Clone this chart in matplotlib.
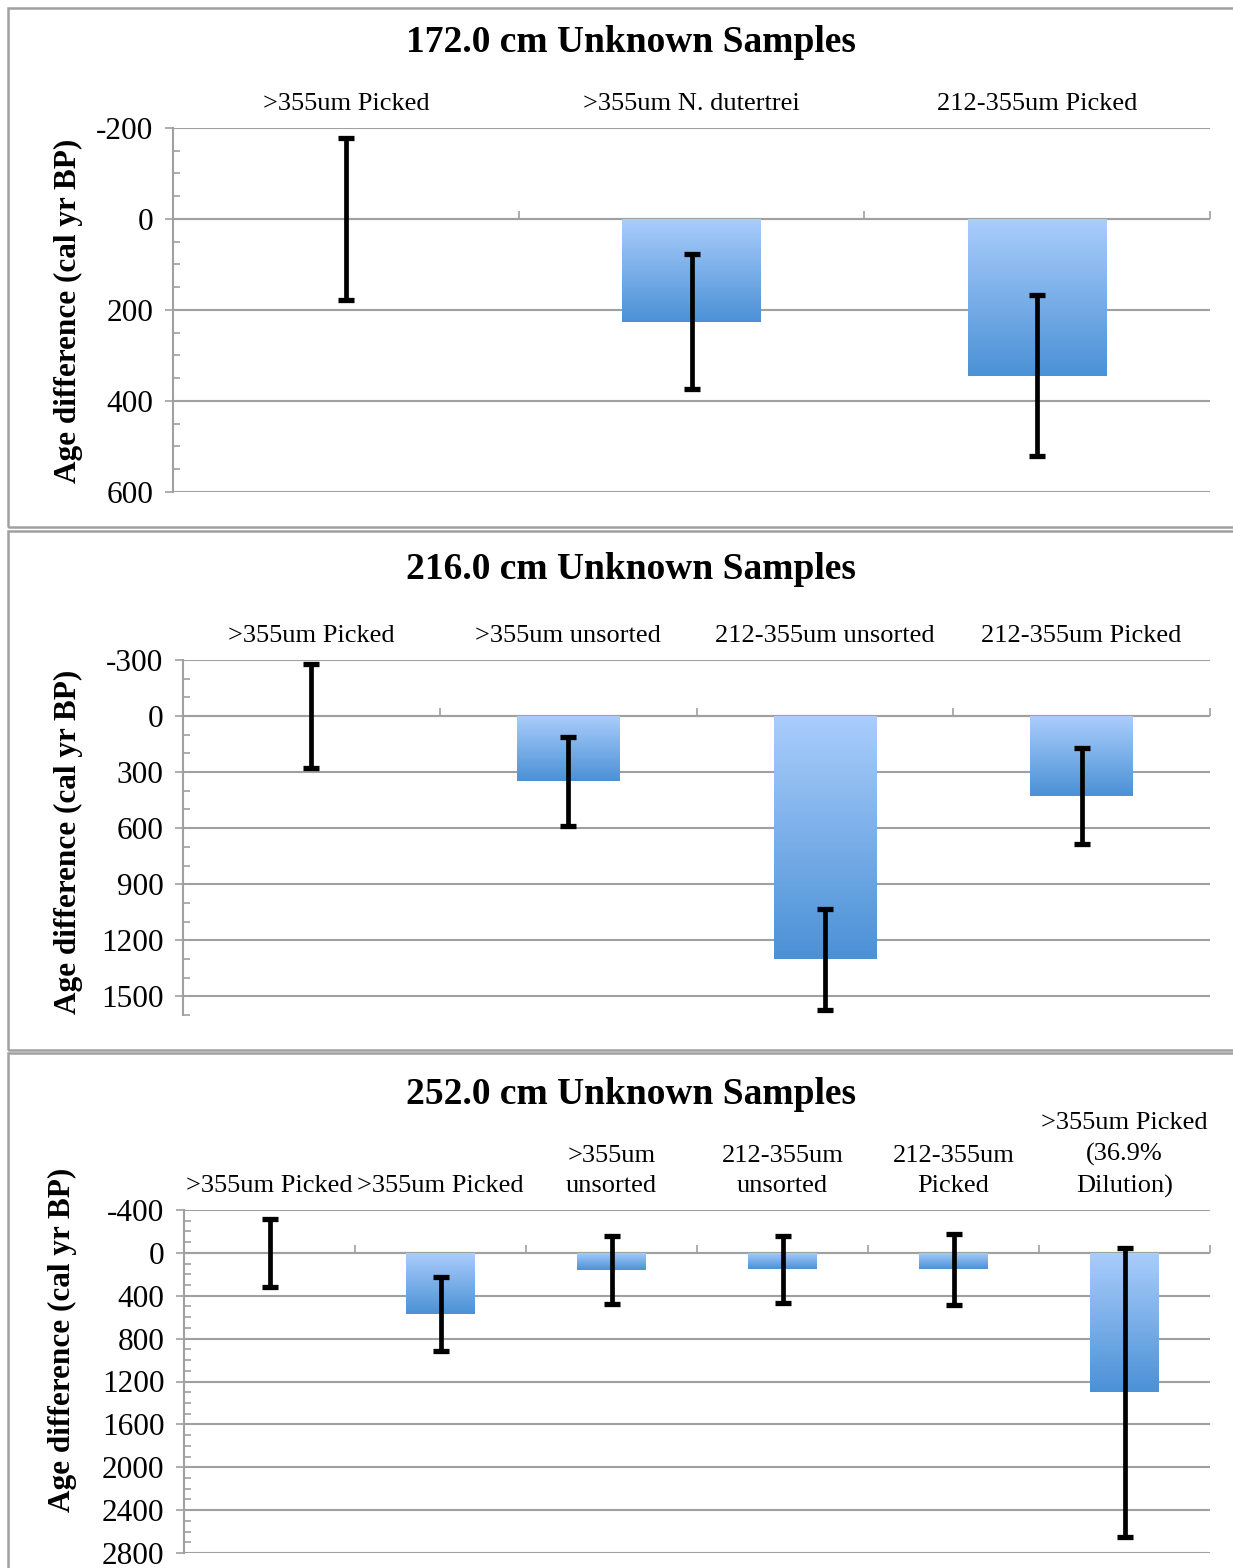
#!/usr/bin/env python3
"""
    Age difference of unknown samples at three depths
"""

import numpy as np
import matplotlib
matplotlib.use("Agg")
from matplotlib import pyplot as plt
from matplotlib.colors import LinearSegmentedColormap
from matplotlib.patches import Rectangle
from matplotlib.ticker import MultipleLocator

# 172.0 cm
labels_172 = [">355um Picked", ">355um N. dutertrei", "212-355um Picked"]
values_172 = [0, 226, 344]
errors_172 = [177, 148, 177]

# 216.0 cm
labels_216 = [">355um Picked", ">355um unsorted", "212-355um unsorted", "212-355um Picked"]
values_216 = [0, 350, 1302, 427]
errors_216 = [280, 238, 272, 256]

# 252.0 cm
labels_252 = [">355um Picked", ">355um Picked", ">355um\nunsorted", "212-355um\nunsorted",
              "212-355um\nPicked", ">355um Picked\n(36.9%\nDilution)"]
values_252 = [0, 569, 159, 155, 154, 1300]
errors_252 = [320, 345, 317, 312, 331, 1348]

plt.rcParams["font.family"] = ["Liberation Serif", "DejaVu Serif"]
plt.rcParams["axes.unicode_minus"] = False

W, H = 1233, 1568
GRAY = "#a0a0a0"
grad = LinearSegmentedColormap.from_list("bar", ["#aacdfc", "#4b91d6"])


def panel(fig, rect, title, title_y, ylab_x, ylab_y, labels, values, errors,
          ylim, major, minor):
    left, top, right, bottom = rect
    ax = fig.add_axes([left / W, 1 - bottom / H, (right - left) / W, (bottom - top) / H])
    n = len(labels)
    x = np.arange(n) + 0.5

    bars = ax.bar(x, values, width=0.4, color="none", edgecolor="none", zorder=2)
    for b in bars:
        if b.get_height() == 0:
            continue
        im = ax.imshow(np.linspace(0, 1, 256).reshape(-1, 1), cmap=grad, aspect="auto",
                       origin="lower", interpolation="bicubic",
                       extent=(b.get_x(), b.get_x() + b.get_width(), 0, b.get_height()),
                       zorder=2)
        im.set_clip_path(b)

    ax.errorbar(x, values, yerr=errors, fmt="none", ecolor="black", elinewidth=3.4,
                capsize=5.5, capthick=3.8, zorder=4)

    # category axis at zero with small upward ticks at boundaries
    ax.axhline(0, color=GRAY, lw=1.5, zorder=1)
    ax.plot(np.arange(n + 1), np.zeros(n + 1), ls="none", marker=2, ms=6,
            mew=1.2, color=GRAY, zorder=1, clip_on=False)

    ax.set_xlim(0, n)
    ax.set_ylim(ylim[1], ylim[0])
    ax.yaxis.set_major_locator(MultipleLocator(major))
    ax.yaxis.set_minor_locator(MultipleLocator(minor))
    ax.grid(axis="y", which="major", color=GRAY, lw=1.5, zorder=0)
    ax.set_axisbelow(True)

    ax.xaxis.tick_top()
    ax.set_xticks(x, labels)
    for lab in ax.get_xticklabels():
        lab.set_linespacing(1.5)
    ax.tick_params(axis="x", length=0, pad=9, labelsize=19)
    ax.tick_params(axis="y", which="major", direction="out", length=6, width=1.2,
                   color=GRAY, labelsize=22.5, pad=8)
    ax.tick_params(axis="y", which="minor", direction="in", length=5, width=1.2, color=GRAY)

    for s in ["top", "right", "bottom"]:
        ax.spines[s].set_visible(False)
    ax.spines["left"].set_color(GRAY)
    ax.spines["left"].set_linewidth(1.5)

    fig.text(631 / W, 1 - title_y / H, title, ha="center", va="center",
             fontsize=27, fontweight="bold")
    fig.text(ylab_x / W, 1 - ylab_y / H, "Age difference (cal yr BP)", rotation=90,
             ha="center", va="center", fontsize=22.5, fontweight="bold")
    return ax


fig = plt.figure(figsize=(W / 100, H / 100), dpi=100)

# panel frames
for y0, y1 in [(8, 527), (531, 1050), (1053, 1590)]:
    fig.add_artist(Rectangle((8 / W, 1 - y1 / H), 1.0, (y1 - y0) / H,
                             transform=fig.transFigure, fill=False,
                             edgecolor=GRAY, lw=1.8))

panel(fig, (173, 128, 1210, 492), "172.0 cm Unknown Samples", 42, 68, 311,
      labels_172, values_172, errors_172, (-200, 600), 200, 50)
panel(fig, (183, 660, 1210, 1015), "216.0 cm Unknown Samples", 570, 68, 842,
      labels_216, values_216, errors_216, (-300, 1600), 300, 100)
panel(fig, (184, 1210, 1210, 1553), "252.0 cm Unknown Samples", 1095, 62, 1340,
      labels_252, values_252, errors_252, (-400, 2800), 400, 100)

fig.savefig("out.png", dpi=100)
plt.close(fig)
